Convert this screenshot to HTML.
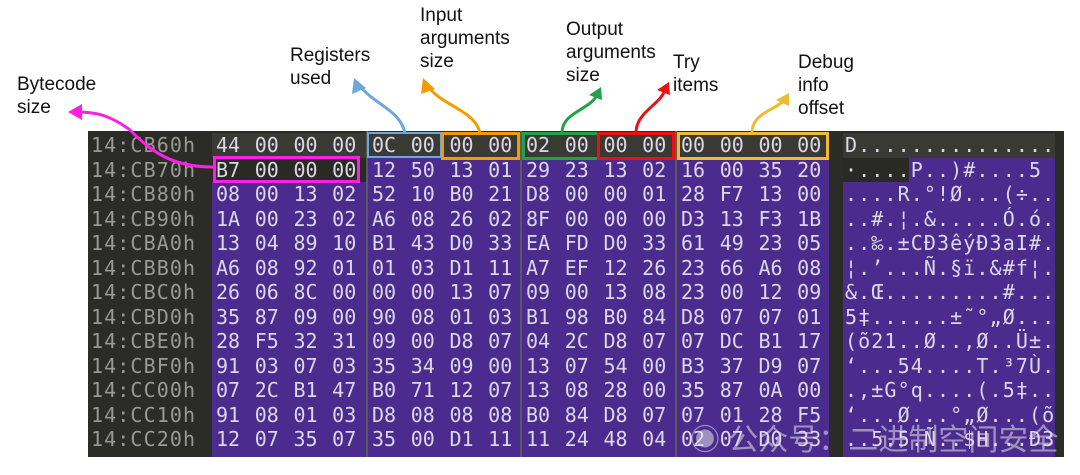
<!DOCTYPE html>
<html><head><meta charset="utf-8"><style>
body{margin:0;width:1080px;height:475px;background:#fff;position:relative;overflow:hidden;font-family:"Liberation Sans","Noto Sans CJK SC",sans-serif}
.p{position:absolute}
.lbl{position:absolute;font-size:19px;line-height:23px;color:#111;font-family:"Liberation Sans",sans-serif}
.r{position:absolute;height:24.5px;line-height:24.5px;font-family:"DejaVu Sans Mono","Liberation Mono",monospace;font-size:20px;color:#ddd6e6;white-space:pre}
.h{word-spacing:2.6px}
.a{letter-spacing:1.1px}
.ad{color:#9a9a92;letter-spacing:1.1px}
</style></head><body>
<div class="p" style="left:88px;top:131px;width:976px;height:326px;background:#2b2b27"></div>
<div class="p" style="left:212px;top:157.5px;width:617px;height:299.5px;background:#4b2b8d"></div>
<div class="p" style="left:212px;top:157.5px;width:154px;height:24.5px;background:#2a2a25"></div>
<div class="p" style="left:212px;top:133px;width:617px;height:24.5px;background:#3a3a35"></div>
<div class="p" style="left:843px;top:157.5px;width:212px;height:299.5px;background:#4b2b8d"></div>
<div class="p" style="left:843px;top:157.5px;width:66px;height:24.5px;background:#2a2a25"></div>
<div class="p" style="left:843px;top:133px;width:212px;height:24.5px;background:#3a3a35"></div>
<div class="p" style="left:366px;top:131px;width:2px;height:326px;background:#5a5a58"></div>
<div class="p" style="left:520px;top:131px;width:2px;height:326px;background:#5a5a58"></div>
<div class="p" style="left:675px;top:131px;width:2px;height:326px;background:#5a5a58"></div>

<div class="r ad" style="left:91px;top:133px">14:CB60h
14:CB70h
14:CB80h
14:CB90h
14:CBA0h
14:CBB0h
14:CBC0h
14:CBD0h
14:CBE0h
14:CBF0h
14:CC00h
14:CC10h
14:CC20h</div>
<div class="r h" style="left:216px;top:133px">44 00 00 00
B7 00 00 00
08 00 13 02
1A 00 23 02
13 04 89 10
A6 08 92 01
26 06 8C 00
35 87 09 00
28 F5 32 31
91 03 07 03
07 2C B1 47
91 08 01 03
12 07 35 07</div>
<div class="r h" style="left:372px;top:133px">0C 00 00 00
12 50 13 01
52 10 B0 21
A6 08 26 02
B1 43 D0 33
01 03 D1 11
00 00 13 07
90 08 01 03
09 00 D8 07
35 34 09 00
B0 71 12 07
D8 08 08 08
35 00 D1 11</div>
<div class="r h" style="left:526px;top:133px">02 00 00 00
29 23 13 02
D8 00 00 01
8F 00 00 00
EA FD D0 33
A7 EF 12 26
09 00 13 08
B1 98 B0 84
04 2C D8 07
13 07 54 00
13 08 28 00
B0 84 D8 07
11 24 48 04</div>
<div class="r h" style="left:681px;top:133px">00 00 00 00
16 00 35 20
28 F7 13 00
D3 13 F3 1B
61 49 23 05
23 66 A6 08
23 00 12 09
D8 07 07 01
07 DC B1 17
B3 37 D9 07
35 87 0A 00
07 01 28 F5
02 07 D0 33</div>
<div class="r a" style="left:845px;top:133px">D...............
·....P..)#....5 
....R.°!Ø...(÷..
..#.¦.&.....Ó.ó.
..‰.±CÐ3êýÐ3aI#.
¦.’...Ñ.§ï.&#f¦.
&.Œ.........#...
5‡......±˜°„Ø...
(õ21..Ø..,Ø..Ü±.
‘...54....T.³7Ù.
.,±G°q....(.5‡..
‘...Ø...°„Ø...(õ
..5.5.Ñ..$H...Ð3</div>

<div class="p" style="left:213px;top:156px;width:141px;height:21px;border:3px solid #ff1ee6"></div>
<div class="p" style="left:367px;top:132px;width:71px;height:22px;border:2px solid #6fa6dc"></div>
<div class="p" style="left:441px;top:132px;width:73px;height:22px;border:3px solid #f59a00"></div>
<div class="p" style="left:522px;top:132px;width:72px;height:22px;border:3px solid #25a04a"></div>
<div class="p" style="left:597px;top:132px;width:72px;height:22px;border:3px solid #ee1010"></div>
<div class="p" style="left:677px;top:132px;width:146px;height:22px;border:3px solid #f0bb30"></div>

<div class="p" style="left:690px;top:415px;font-size:30px;color:rgba(230,230,235,0.55);white-space:nowrap">◉ 公众号：二进制空间安全</div>

<div class="lbl" style="left:17px;top:73px">Bytecode<br>size</div>
<div class="lbl" style="left:290px;top:44px">Registers<br>used</div>
<div class="lbl" style="left:420px;top:4px">Input<br>arguments<br>size</div>
<div class="lbl" style="left:566px;top:18px">Output<br>arguments<br>size</div>
<div class="lbl" style="left:673px;top:51px">Try<br>items</div>
<div class="lbl" style="left:798px;top:51px">Debug<br>info<br>offset</div>

<svg class="p" style="left:0;top:0" width="1080" height="475">
<g fill="none" stroke-width="3">
<path d="M213 167 C170 167 150 150 130 130 C110 115 95 112 78 112" stroke="#ff1ee6"/>
<path d="M405 133 C400 110 375 105 360 86" stroke="#6fa6dc"/>
<path d="M480 133 C475 110 440 105 428 86" stroke="#f59a00"/>
<path d="M562 133 C562 112 590 110 597 95" stroke="#25a04a"/>
<path d="M636 133 C636 112 660 105 665 90" stroke="#ee1010"/>
<path d="M752 133 C752 112 777 110 784 100" stroke="#f0bb30"/>
</g>
<polygon points="68,112 82,104 82,120" fill="#ff1ee6"/>
<polygon points="354,78 352,94 366,88" fill="#6fa6dc"/>
<polygon points="423,78 421,94 435,89" fill="#f59a00"/>
<polygon points="601,87 589,95 602,100" fill="#25a04a"/>
<polygon points="669,82 657,90 670,95" fill="#ee1010"/>
<polygon points="789,93 776,100 789,106" fill="#f0bb30"/>
</svg>
</body></html>
